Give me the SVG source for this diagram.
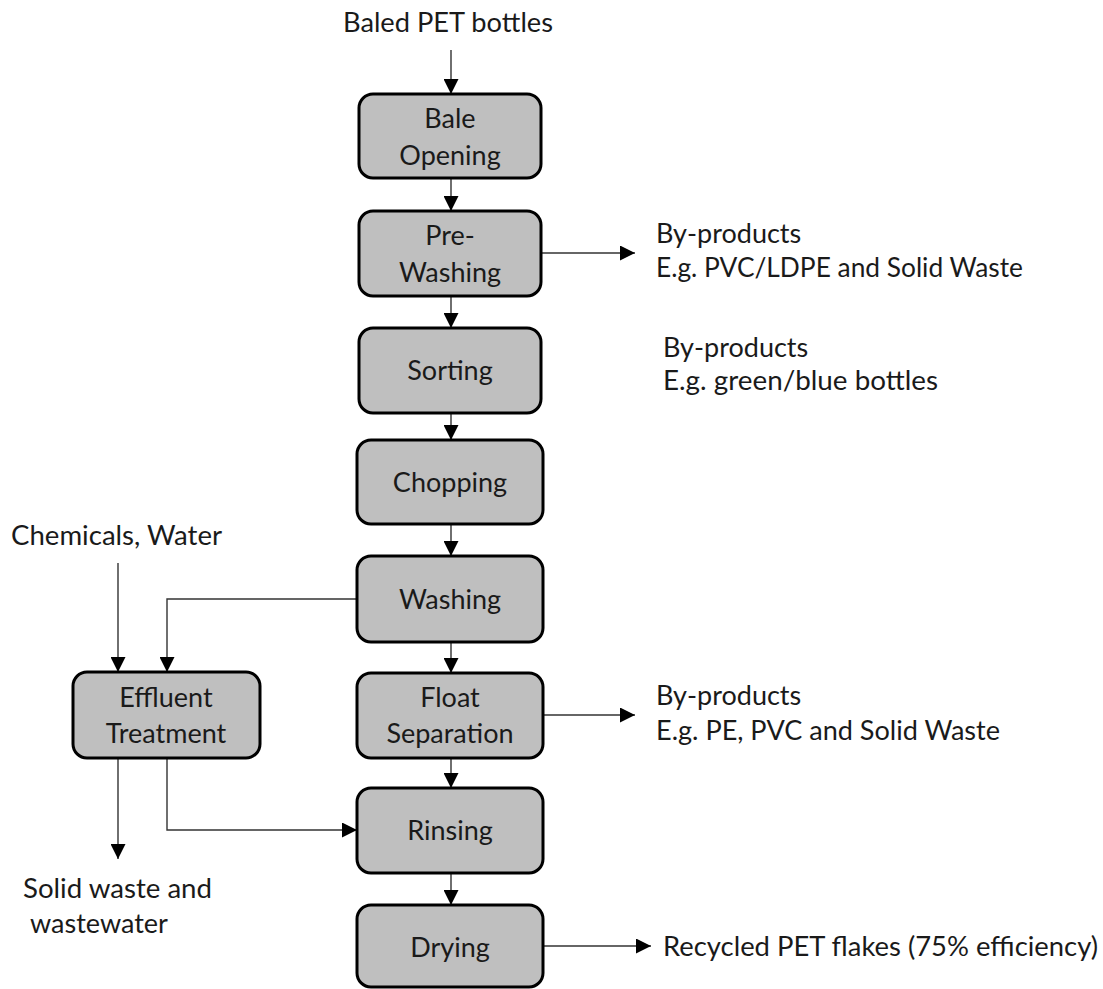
<svg xmlns="http://www.w3.org/2000/svg" width="1103" height="989" viewBox="0 0 1103 989">
<defs>
<marker id="ah" markerUnits="userSpaceOnUse" markerWidth="15" markerHeight="15" refX="15" refY="7.5" orient="auto">
<path d="M0,0 L15,7.5 L0,15 z" fill="#000"/>
</marker>
<style>
.box{fill:#bfbfbf;stroke:#000;stroke-width:3}
.t{font-family:Lato,"Liberation Sans",sans-serif;font-size:27px;fill:#1a1a1a}
.c{text-anchor:middle}
.ln{fill:none;stroke:#333;stroke-width:1.4;marker-end:url(#ah)}
</style>
</defs>
<rect width="1103" height="989" fill="#fff"/>
<g id="connectors">
<path class="ln" d="M451,50 V94"/>
<path class="ln" d="M451,178 V211"/>
<path class="ln" d="M451,296 V328"/>
<path class="ln" d="M451,413 V440"/>
<path class="ln" d="M451,524 V556"/>
<path class="ln" d="M451,642 V673"/>
<path class="ln" d="M451,758 V788"/>
<path class="ln" d="M451,873 V905"/>
<path class="ln" d="M542,253 H635"/>
<path class="ln" d="M542,715 H635"/>
<path class="ln" d="M542,946 H651"/>
<path class="ln" d="M118,563 V672"/>
<path class="ln" d="M357,599 H167 V672"/>
<path class="ln" d="M118,758 V859"/>
<path class="ln" d="M167,758 V830 H357"/>
</g>
<g id="n_bale">
<rect class="box" x="359" y="94" width="182" height="84" rx="14"/>
<text class="t c" x="450" y="128">Bale</text>
<text class="t c" x="450" y="165">Opening</text>
</g>
<g id="n_prewash">
<rect class="box" x="359" y="211" width="182" height="85" rx="14"/>
<text class="t c" x="450" y="245">Pre-</text>
<text class="t c" x="450" y="282">Washing</text>
</g>
<g id="n_sorting">
<rect class="box" x="359" y="328" width="182" height="85" rx="14"/>
<text class="t c" x="450" y="380">Sorting</text>
</g>
<g id="n_chopping">
<rect class="box" x="357" y="440" width="186" height="84" rx="14"/>
<text class="t c" x="450" y="492">Chopping</text>
</g>
<g id="n_washing">
<rect class="box" x="357" y="556" width="186" height="86" rx="14"/>
<text class="t c" x="450" y="609">Washing</text>
</g>
<g id="n_float">
<rect class="box" x="357" y="673" width="186" height="85" rx="14"/>
<text class="t c" x="450" y="707">Float</text>
<text class="t c" x="450" y="743">Separation</text>
</g>
<g id="n_rinsing">
<rect class="box" x="357" y="788" width="186" height="85" rx="14"/>
<text class="t c" x="450" y="840">Rinsing</text>
</g>
<g id="n_drying">
<rect class="box" x="357" y="905" width="186" height="82" rx="14"/>
<text class="t c" x="450" y="957">Drying</text>
</g>
<g id="n_effluent">
<rect class="box" x="73" y="672" width="187" height="86" rx="14"/>
<text class="t c" x="166" y="707">Effluent</text>
<text class="t c" x="166" y="743">Treatment</text>
</g>
<g id="labels">
<text class="t" x="343" y="32" textLength="210" lengthAdjust="spacingAndGlyphs">Baled PET bottles</text>
<text class="t" x="656" y="243">By-products</text>
<text class="t" x="656" y="277" textLength="367" lengthAdjust="spacingAndGlyphs">E.g. PVC/LDPE and Solid Waste</text>
<text class="t" x="663" y="357">By-products</text>
<text class="t" x="663" y="390" textLength="275" lengthAdjust="spacingAndGlyphs">E.g. green/blue bottles</text>
<text class="t" x="11" y="545" textLength="211" lengthAdjust="spacingAndGlyphs">Chemicals, Water</text>
<text class="t" x="656" y="705">By-products</text>
<text class="t" x="656" y="740" textLength="344" lengthAdjust="spacingAndGlyphs">E.g. PE, PVC and Solid Waste</text>
<text class="t" x="23" y="898" textLength="189" lengthAdjust="spacingAndGlyphs">Solid waste and</text>
<text class="t" x="30" y="933">wastewater</text>
<text class="t" x="663" y="956" textLength="435" lengthAdjust="spacingAndGlyphs">Recycled PET flakes (75% efficiency)</text>
</g>
</svg>
